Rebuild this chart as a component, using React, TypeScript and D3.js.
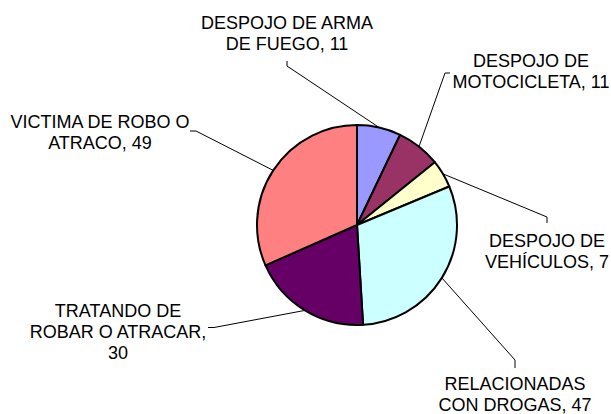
import React from 'react';
import * as d3 from 'd3';

const categories = [
    "DESPOJO DE ARMA DE FUEGO",
    "DESPOJO DE MOTOCICLETA",
    "DESPOJO DE VEHÍCULOS",
    "RELACIONADAS CON DROGAS",
    "TRATANDO DE ROBAR O ATRACAR",
    "VICTIMA DE ROBO O ATRACO"
];
const values = [11, 11, 7, 47, 30, 49];
const colors = ["#9999FF", "#993366", "#FFFFCC", "#CCFFFF", "#660066", "#FF8080"];

// where each label sits (center x, first baseline), how its words wrap,
// and the leader line bend + short tick next to the text
const labelLayout = [
    { x: 287, y: 29, words: [3, 3], bend: [287, 66], tick: [287, 61] },
    { x: 531, y: 67, words: [2, 2], bend: [445, 73], tick: [450, 73] },
    { x: 547, y: 247, words: [2, 2], bend: [547, 217], tick: [547, 223] },
    { x: 515, y: 390, words: [1, 3], bend: [515, 360], tick: [515, 368] },
    { x: 118, y: 317, words: [2, 3, 1], bend: [214, 327.5], tick: [208, 327.5] },
    { x: 100, y: 128, words: [4, 2], bend: [196, 131], tick: [190, 131] }
];

const width = 611;
const height = 414;
const cx = 357;
const cy = 225;
const radius = 100;
const lineGap = 21;

function wrap(text: string, counts: number[]) {
    const w = text.split(" ");
    const out: string[] = [];
    let i = 0;
    counts.forEach(c => {
        out.push(w.slice(i, i + c).join(" "));
        i += c;
    });
    return out;
}

export default function App() {
    const pie = d3.pie<number>().sort(null).value(d => d);
    const arcs = pie(values);
    const arc = d3.arc<d3.PieArcDatum<number>>().innerRadius(0).outerRadius(radius);

    return (
        <svg width={width} height={height}
            style={{ position: 'absolute', left: 0, top: 0, background: '#fff' }}
            fontFamily="'Liberation Sans', Arial, sans-serif">
            <g transform={`translate(${cx},${cy})`}>
                {arcs.map((a, i) => (
                    <path key={i} d={arc(a) || ""} fill={colors[i]} stroke="#000" strokeWidth={2}
                        strokeLinejoin="round" />
                ))}
            </g>
            {arcs.map((a, i) => {
                const mid = (a.startAngle + a.endAngle) / 2;
                const sx = cx + radius * Math.sin(mid);
                const sy = cy - radius * Math.cos(mid);
                const lay = labelLayout[i];
                const pts = [[sx, sy], lay.bend, lay.tick];
                return (
                    <polyline key={"l" + i} points={pts.map(p => p.join(",")).join(" ")}
                        fill="none" stroke="#000" strokeWidth={1} />
                );
            })}
            {categories.map((c, i) => {
                const lay = labelLayout[i];
                const lines = wrap(`${c}, ${values[i]}`, lay.words);
                return (
                    <text key={"t" + i} x={lay.x} y={lay.y} textAnchor="middle" fontSize={18} fill="#000">
                        {lines.map((ln, j) => (
                            <tspan key={j} x={lay.x} y={lay.y + j * lineGap}>{ln}</tspan>
                        ))}
                    </text>
                );
            })}
        </svg>
    );
}
